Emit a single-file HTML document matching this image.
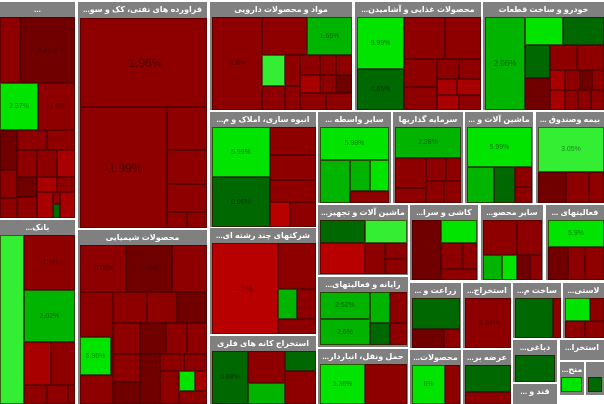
<!DOCTYPE html>
<html><head><meta charset="utf-8"><style>
body{margin:0;width:604px;height:404px;background:#fff;overflow:hidden;position:relative;font-family:"Liberation Sans","DejaVu Sans",sans-serif}
.s{position:absolute;background:#808080;overflow:hidden}
.h{position:absolute;left:0;right:0;top:0;height:15px;color:#fff;font-size:8px;font-weight:bold;text-align:center;line-height:15px;white-space:nowrap;direction:rtl}
.b{position:absolute;box-sizing:border-box;border:1px solid rgba(60,0,0,.6);color:rgba(0,0,0,.45);font-size:7px;text-align:center;display:flex;flex-direction:column;justify-content:center;align-items:center;overflow:hidden}
.r{background:#8e0000}.d{background:#700000}.m{background:#a80000}.x{background:#b80000}
.g{background:#00e400}.G{background:#006800}.n{background:#00b400}.l{background:#33ee33}
</style></head><body>

<!-- 1 -->
<div class="s" style="left:0;top:2px;width:75px;height:216px"><div class="h">...</div></div>
<div class="b r" style="left:0;top:17px;width:20px;height:66px"></div>
<div class="b d" style="left:20px;top:17px;width:55px;height:66px">6.27%</div>
<div class="b g" style="left:0;top:83px;width:38px;height:47px">2.37%</div>
<div class="b r" style="left:38px;top:83px;width:37px;height:47px">-1.9%</div>
<div class="b d" style="left:0;top:130px;width:17px;height:40px"></div>
<div class="b r" style="left:17px;top:130px;width:30px;height:20px"></div>
<div class="b r" style="left:47px;top:130px;width:28px;height:20px"></div>
<div class="b r" style="left:17px;top:150px;width:20px;height:27px"></div>
<div class="b r" style="left:37px;top:150px;width:20px;height:27px"></div>
<div class="b m" style="left:57px;top:150px;width:18px;height:27px"></div>
<div class="b r" style="left:0;top:170px;width:17px;height:28px"></div>
<div class="b d" style="left:17px;top:177px;width:20px;height:20px"></div>
<div class="b m" style="left:37px;top:177px;width:20px;height:15px"></div>
<div class="b r" style="left:57px;top:177px;width:18px;height:15px"></div>
<div class="b r" style="left:0;top:198px;width:17px;height:20px"></div>
<div class="b r" style="left:17px;top:197px;width:20px;height:21px"></div>
<div class="b m" style="left:37px;top:192px;width:16px;height:26px"></div>
<div class="b r" style="left:53px;top:192px;width:7px;height:12px"></div>
<div class="b G" style="left:53px;top:204px;width:7px;height:14px"></div>
<div class="b m" style="left:60px;top:192px;width:15px;height:26px"></div>

<!-- 2 -->
<div class="s" style="left:78px;top:2px;width:129px;height:226px"><div class="h">فراورده های نفتی، کک و سو...</div></div>
<div class="b r" style="left:80px;top:18px;width:127px;height:89px;font-size:12px">-1.96%</div>
<div class="b r" style="left:80px;top:107px;width:87px;height:121px;font-size:12px">-1.99%</div>
<div class="b r" style="left:167px;top:107px;width:40px;height:43px"></div>
<div class="b r" style="left:167px;top:150px;width:40px;height:34px"></div>
<div class="b r" style="left:167px;top:184px;width:40px;height:28px"></div>
<div class="b r" style="left:167px;top:212px;width:20px;height:16px"></div>
<div class="b r" style="left:187px;top:212px;width:20px;height:16px"></div>

<!-- 3 -->
<div class="s" style="left:210px;top:2px;width:142px;height:108px"><div class="h">مواد و محصولات دارویی</div></div>
<div class="b r" style="left:212px;top:17px;width:50px;height:93px">-1.8%</div>
<div class="b r" style="left:262px;top:17px;width:45px;height:38px"></div>
<div class="b n" style="left:307px;top:17px;width:45px;height:38px">1.66%</div>
<div class="b l" style="left:262px;top:55px;width:23px;height:31px"></div>
<div class="b r" style="left:285px;top:55px;width:15px;height:31px"></div>
<div class="b r" style="left:300px;top:55px;width:20px;height:20px"></div>
<div class="b r" style="left:320px;top:55px;width:16px;height:20px"></div>
<div class="b r" style="left:336px;top:55px;width:16px;height:20px"></div>
<div class="b m" style="left:300px;top:75px;width:20px;height:18px"></div>
<div class="b r" style="left:320px;top:75px;width:16px;height:18px"></div>
<div class="b d" style="left:336px;top:75px;width:16px;height:18px"></div>
<div class="b r" style="left:262px;top:86px;width:23px;height:24px"></div>
<div class="b r" style="left:285px;top:86px;width:15px;height:24px"></div>
<div class="b r" style="left:300px;top:93px;width:26px;height:17px"></div>
<div class="b r" style="left:326px;top:93px;width:26px;height:17px"></div>

<!-- 4 -->
<div class="s" style="left:355px;top:2px;width:126px;height:108px"><div class="h">محصولات غذایی و آشامیدن...</div></div>
<div class="b g" style="left:357px;top:17px;width:47px;height:52px">5.99%</div>
<div class="b G" style="left:357px;top:69px;width:47px;height:41px">0.65%</div>
<div class="b r" style="left:404px;top:17px;width:41px;height:42px"></div>
<div class="b r" style="left:445px;top:17px;width:36px;height:42px"></div>
<div class="b r" style="left:404px;top:59px;width:33px;height:28px"></div>
<div class="b r" style="left:437px;top:59px;width:22px;height:20px"></div>
<div class="b r" style="left:459px;top:59px;width:22px;height:20px"></div>
<div class="b r" style="left:404px;top:87px;width:33px;height:23px"></div>
<div class="b m" style="left:437px;top:79px;width:20px;height:16px"></div>
<div class="b m" style="left:457px;top:79px;width:24px;height:16px"></div>
<div class="b m" style="left:437px;top:95px;width:22px;height:15px"></div>
<div class="b r" style="left:459px;top:95px;width:22px;height:15px"></div>

<!-- 5 -->
<div class="s" style="left:483px;top:2px;width:121px;height:108px"><div class="h">خودرو و ساخت قطعات</div></div>
<div class="b n" style="left:485px;top:17px;width:40px;height:93px;font-size:8px">2.06%</div>
<div class="b g" style="left:525px;top:17px;width:38px;height:28px"></div>
<div class="b G" style="left:563px;top:17px;width:41px;height:28px"></div>
<div class="b G" style="left:525px;top:45px;width:25px;height:33px"></div>
<div class="b d" style="left:525px;top:78px;width:25px;height:32px"></div>
<div class="b r" style="left:550px;top:45px;width:27px;height:25px"></div>
<div class="b r" style="left:577px;top:45px;width:27px;height:25px"></div>
<div class="b m" style="left:550px;top:70px;width:15px;height:20px"></div>
<div class="b r" style="left:565px;top:70px;width:15px;height:20px"></div>
<div class="b d" style="left:580px;top:70px;width:12px;height:20px"></div>
<div class="b r" style="left:592px;top:70px;width:12px;height:20px"></div>
<div class="b m" style="left:550px;top:90px;width:15px;height:20px"></div>
<div class="b r" style="left:565px;top:90px;width:13px;height:20px"></div>
<div class="b r" style="left:578px;top:90px;width:13px;height:20px"></div>
<div class="b r" style="left:591px;top:90px;width:13px;height:20px"></div>

<!-- 6 -->
<div class="s" style="left:210px;top:112px;width:106px;height:115px"><div class="h">انبوه سازی، املاک و م...</div></div>
<div class="b g" style="left:212px;top:127px;width:58px;height:50px">5.99%</div>
<div class="b G" style="left:212px;top:177px;width:58px;height:50px">0.96%</div>
<div class="b r" style="left:270px;top:127px;width:46px;height:28px"></div>
<div class="b r" style="left:270px;top:155px;width:46px;height:25px"></div>
<div class="b r" style="left:270px;top:180px;width:46px;height:22px"></div>
<div class="b x" style="left:270px;top:202px;width:20px;height:25px"></div>
<div class="b r" style="left:290px;top:202px;width:26px;height:25px"></div>

<!-- 7 -->
<div class="s" style="left:318px;top:112px;width:73px;height:91px"><div class="h">سایر واسطه ...</div></div>
<div class="b g" style="left:320px;top:127px;width:69px;height:33px">5.98%</div>
<div class="b n" style="left:320px;top:160px;width:30px;height:43px"></div>
<div class="b n" style="left:350px;top:160px;width:20px;height:31px"></div>
<div class="b g" style="left:370px;top:160px;width:19px;height:31px"></div>
<div class="b r" style="left:350px;top:191px;width:39px;height:12px"></div>

<!-- 8 -->
<div class="s" style="left:393px;top:112px;width:70px;height:91px"><div class="h">سرمایه گذاریها</div></div>
<div class="b n" style="left:395px;top:127px;width:66px;height:31px">2.28%</div>
<div class="b r" style="left:395px;top:158px;width:31px;height:30px"></div>
<div class="b r" style="left:426px;top:158px;width:20px;height:23px"></div>
<div class="b r" style="left:446px;top:158px;width:15px;height:23px"></div>
<div class="b r" style="left:395px;top:188px;width:31px;height:15px"></div>
<div class="b r" style="left:426px;top:181px;width:18px;height:22px"></div>
<div class="b r" style="left:444px;top:181px;width:17px;height:22px"></div>

<!-- 9 -->
<div class="s" style="left:465px;top:112px;width:68px;height:91px"><div class="h">ماشین آلات و ...</div></div>
<div class="b g" style="left:467px;top:127px;width:65px;height:40px">5.99%</div>
<div class="b n" style="left:467px;top:167px;width:27px;height:36px"></div>
<div class="b G" style="left:494px;top:167px;width:21px;height:36px"></div>
<div class="b r" style="left:515px;top:167px;width:17px;height:20px"></div>
<div class="b r" style="left:515px;top:187px;width:17px;height:16px"></div>

<!-- 10 -->
<div class="s" style="left:536px;top:112px;width:68px;height:91px"><div class="h">بیمه وصندوق ...</div></div>
<div class="b l" style="left:538px;top:127px;width:66px;height:45px">3.05%</div>
<div class="b d" style="left:538px;top:172px;width:28px;height:31px"></div>
<div class="b r" style="left:566px;top:172px;width:23px;height:31px"></div>
<div class="b r" style="left:589px;top:172px;width:15px;height:31px"></div>

<!-- 11 -->
<div class="s" style="left:0;top:220px;width:75px;height:184px"><div class="h">بانک...</div></div>
<div class="b l" style="left:0;top:235px;width:24px;height:169px"></div>
<div class="b r" style="left:24px;top:235px;width:51px;height:55px">-1.9%</div>
<div class="b n" style="left:24px;top:290px;width:51px;height:52px">2.02%</div>
<div class="b m" style="left:24px;top:342px;width:27px;height:43px"></div>
<div class="b r" style="left:51px;top:342px;width:24px;height:43px"></div>
<div class="b r" style="left:24px;top:385px;width:23px;height:19px"></div>
<div class="b r" style="left:47px;top:385px;width:21px;height:19px"></div>
<div class="b r" style="left:68px;top:385px;width:7px;height:19px"></div>

<!-- 12 -->
<div class="s" style="left:78px;top:230px;width:129px;height:174px"><div class="h">محصولات شیمیایی</div></div>
<div class="b r" style="left:80px;top:245px;width:46px;height:47px">-0.06%</div>
<div class="b d" style="left:126px;top:245px;width:46px;height:47px">0.8%</div>
<div class="b r" style="left:172px;top:245px;width:35px;height:47px"></div>
<div class="b r" style="left:80px;top:292px;width:33px;height:45px"></div>
<div class="b r" style="left:113px;top:292px;width:34px;height:31px"></div>
<div class="b r" style="left:147px;top:292px;width:30px;height:31px"></div>
<div class="b d" style="left:177px;top:292px;width:30px;height:31px"></div>
<div class="b r" style="left:113px;top:323px;width:27px;height:31px"></div>
<div class="b d" style="left:140px;top:323px;width:26px;height:31px"></div>
<div class="b r" style="left:166px;top:323px;width:21px;height:31px"></div>
<div class="b r" style="left:187px;top:323px;width:20px;height:31px"></div>
<div class="b g" style="left:80px;top:337px;width:31px;height:38px">5.96%</div>
<div class="b r" style="left:80px;top:375px;width:33px;height:29px"></div>
<div class="b r" style="left:111px;top:337px;width:2px;height:38px"></div>
<div class="b r" style="left:113px;top:354px;width:27px;height:28px"></div>
<div class="b d" style="left:140px;top:354px;width:20px;height:50px"></div>
<div class="b r" style="left:160px;top:354px;width:24px;height:17px"></div>
<div class="b r" style="left:184px;top:354px;width:23px;height:17px"></div>
<div class="b r" style="left:160px;top:371px;width:19px;height:33px"></div>
<div class="b g" style="left:179px;top:371px;width:16px;height:20px"></div>
<div class="b m" style="left:195px;top:371px;width:12px;height:20px"></div>
<div class="b d" style="left:113px;top:382px;width:27px;height:22px"></div>
<div class="b r" style="left:179px;top:391px;width:28px;height:13px"></div>

<!-- 13 -->
<div class="s" style="left:210px;top:228px;width:106px;height:106px"><div class="h">شرکتهای چند رشته ای...</div></div>
<div class="b x" style="left:212px;top:243px;width:66px;height:91px;font-size:9px">-2%</div>
<div class="b r" style="left:278px;top:243px;width:38px;height:46px"></div>
<div class="b n" style="left:278px;top:289px;width:19px;height:30px"></div>
<div class="b r" style="left:297px;top:289px;width:19px;height:30px"></div>
<div class="b r" style="left:278px;top:319px;width:38px;height:15px"></div>

<!-- 14 -->
<div class="s" style="left:210px;top:336px;width:106px;height:68px"><div class="h">استخراج کانه های فلزی</div></div>
<div class="b G" style="left:212px;top:351px;width:36px;height:53px">0.68%</div>
<div class="b r" style="left:248px;top:351px;width:37px;height:32px"></div>
<div class="b n" style="left:248px;top:383px;width:37px;height:21px"></div>
<div class="b G" style="left:285px;top:351px;width:31px;height:20px"></div>
<div class="b r" style="left:285px;top:371px;width:31px;height:33px"></div>

<!-- 15 -->
<div class="s" style="left:318px;top:205px;width:90px;height:70px"><div class="h">ماشین آلات و تجهیز...</div></div>
<div class="b G" style="left:320px;top:220px;width:45px;height:23px"></div>
<div class="b l" style="left:365px;top:220px;width:42px;height:23px"></div>
<div class="b x" style="left:320px;top:243px;width:45px;height:31px"></div>
<div class="b r" style="left:365px;top:243px;width:20px;height:31px"></div>
<div class="b r" style="left:385px;top:243px;width:22px;height:16px"></div>
<div class="b r" style="left:385px;top:259px;width:22px;height:15px"></div>

<!-- 16 -->
<div class="s" style="left:410px;top:205px;width:68px;height:75px"><div class="h">کاشی و سرا...</div></div>
<div class="b d" style="left:412px;top:220px;width:29px;height:60px"></div>
<div class="b g" style="left:441px;top:220px;width:36px;height:23px"></div>
<div class="b r" style="left:441px;top:243px;width:22px;height:26px"></div>
<div class="b r" style="left:463px;top:243px;width:14px;height:26px"></div>
<div class="b r" style="left:441px;top:269px;width:36px;height:11px"></div>

<!-- 17 -->
<div class="s" style="left:481px;top:205px;width:62px;height:75px"><div class="h">سایر محصو...</div></div>
<div class="b r" style="left:483px;top:220px;width:34px;height:35px"></div>
<div class="b r" style="left:517px;top:220px;width:25px;height:35px"></div>
<div class="b n" style="left:483px;top:255px;width:19px;height:25px"></div>
<div class="b g" style="left:502px;top:255px;width:15px;height:25px"></div>
<div class="b d" style="left:517px;top:255px;width:13px;height:25px"></div>
<div class="b r" style="left:530px;top:255px;width:12px;height:25px"></div>

<!-- 18 -->
<div class="s" style="left:546px;top:205px;width:58px;height:75px"><div class="h">فعالیتهای ...</div></div>
<div class="b g" style="left:548px;top:220px;width:56px;height:27px">5.9%</div>
<div class="b d" style="left:548px;top:247px;width:20px;height:33px"></div>
<div class="b r" style="left:568px;top:247px;width:17px;height:33px"></div>
<div class="b r" style="left:585px;top:247px;width:19px;height:33px"></div>

<!-- 19 -->
<div class="s" style="left:318px;top:277px;width:90px;height:70px"><div class="h">رایانه و فعالیتهای...</div></div>
<div class="b n" style="left:320px;top:292px;width:50px;height:27px">2.52%</div>
<div class="b n" style="left:320px;top:319px;width:50px;height:26px">2.6%</div>
<div class="b n" style="left:370px;top:292px;width:20px;height:31px"></div>
<div class="b G" style="left:370px;top:323px;width:20px;height:22px"></div>
<div class="b r" style="left:390px;top:292px;width:17px;height:31px"></div>
<div class="b r" style="left:390px;top:323px;width:17px;height:22px"></div>

<!-- 20 -->
<div class="s" style="left:410px;top:283px;width:51px;height:65px"><div class="h">زراعت و ...</div></div>
<div class="b G" style="left:412px;top:298px;width:48px;height:31px"></div>
<div class="b d" style="left:412px;top:329px;width:32px;height:19px"></div>
<div class="b r" style="left:444px;top:329px;width:16px;height:19px"></div>

<!-- 21 -->
<div class="s" style="left:463px;top:283px;width:48px;height:65px"><div class="h">استخراج...</div></div>
<div class="b r" style="left:465px;top:298px;width:46px;height:50px">-1.34%</div>

<!-- 22 -->
<div class="s" style="left:513px;top:283px;width:48px;height:55px"><div class="h">ساخت م...</div></div>
<div class="b G" style="left:515px;top:298px;width:38px;height:40px"></div>
<div class="b r" style="left:553px;top:298px;width:8px;height:40px"></div>

<!-- 23 -->
<div class="s" style="left:563px;top:283px;width:41px;height:55px"><div class="h">لاستی...</div></div>
<div class="b g" style="left:565px;top:298px;width:25px;height:23px"></div>
<div class="b r" style="left:590px;top:298px;width:14px;height:23px"></div>
<div class="b r" style="left:565px;top:321px;width:20px;height:17px"></div>
<div class="b r" style="left:585px;top:321px;width:19px;height:17px"></div>

<!-- 24 -->
<div class="s" style="left:318px;top:349px;width:90px;height:55px"><div class="h">حمل ونقل، انباردار...</div></div>
<div class="b g" style="left:320px;top:364px;width:45px;height:40px">5.36%</div>
<div class="b r" style="left:365px;top:364px;width:42px;height:40px"></div>

<!-- 25 -->
<div class="s" style="left:410px;top:350px;width:51px;height:54px"><div class="h">محصولات...</div></div>
<div class="b g" style="left:412px;top:365px;width:33px;height:39px">6%</div>
<div class="b r" style="left:445px;top:365px;width:15px;height:39px"></div>

<!-- 26 -->
<div class="s" style="left:463px;top:350px;width:48px;height:54px"><div class="h">عرضه بر...</div></div>
<div class="b G" style="left:465px;top:365px;width:46px;height:27px"></div>
<div class="b r" style="left:465px;top:392px;width:46px;height:12px"></div>

<!-- 27 -->
<div class="s" style="left:513px;top:340px;width:44px;height:42px"><div class="h">دباغی...</div></div>
<div class="b G" style="left:515px;top:355px;width:40px;height:27px"></div>
<!-- 28 -->
<div class="s" style="left:560px;top:340px;width:44px;height:20px"><div class="h">استخرا...</div></div>
<!-- 29 -->
<div class="s" style="left:513px;top:384px;width:44px;height:20px"><div class="h">قند و ...</div></div>
<!-- 30 -->
<div class="s" style="left:560px;top:362px;width:24px;height:33px"><div class="h">منح...</div></div>
<div class="b g" style="left:561px;top:377px;width:21px;height:15px"></div>
<div class="s" style="left:586px;top:362px;width:18px;height:33px"></div>
<div class="b G" style="left:588px;top:377px;width:14px;height:15px"></div>
</body></html>
